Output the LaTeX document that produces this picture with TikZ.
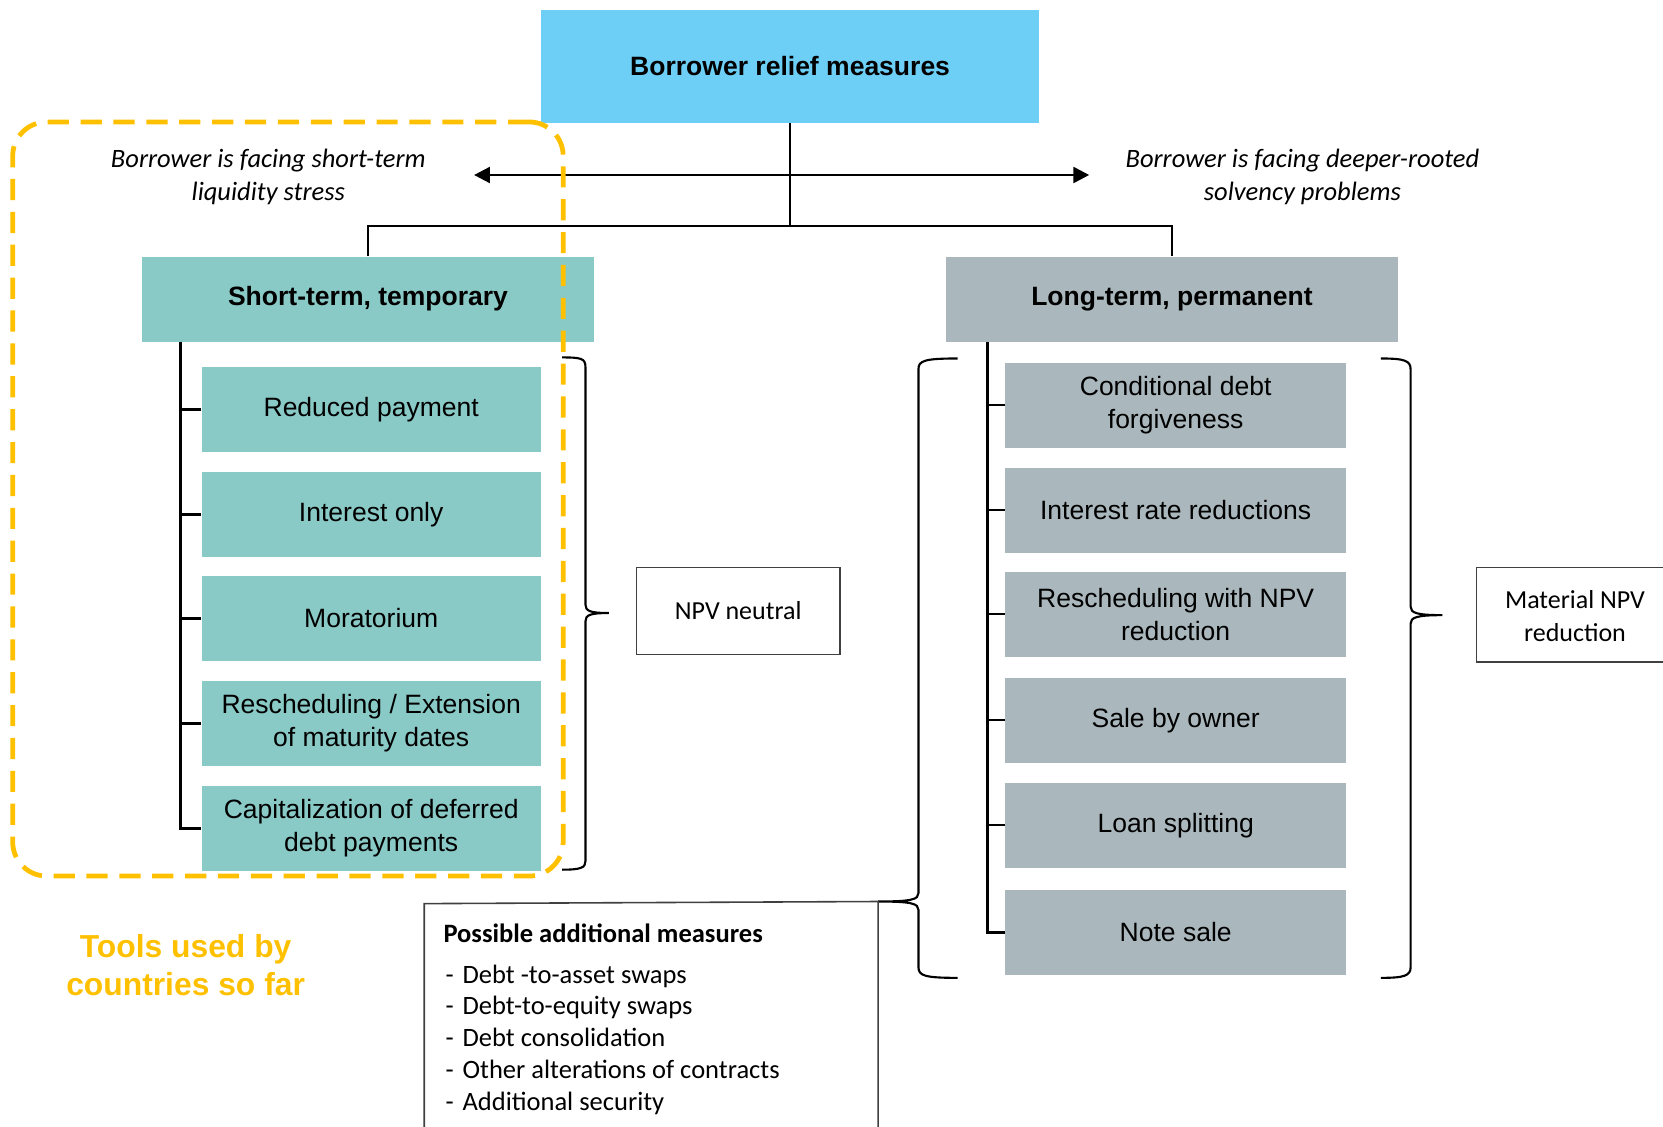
\documentclass[tikz,border=0pt]{standalone}
\usepackage{fontspec}
\setmainfont{Liberation Sans}
\newfontfamily\calib{Carlito}
\usetikzlibrary{arrows.meta,calc}
\definecolor{topblue}{HTML}{6DCFF6}
\definecolor{tealbox}{HTML}{89CAC7}
\definecolor{greybox}{HTML}{AAB8BD}
\definecolor{goldy}{HTML}{FFC000}
\definecolor{edgegrey}{HTML}{404040}
\begin{document}
\begin{tikzpicture}[x=1pt,y=-1pt,
  box/.style={rectangle, inner sep=0pt, align=center, font=\fontsize{25}{31}\selectfont},
  hbox/.style={box, font=\bfseries\fontsize{25}{31}\selectfont},
  lbox/.style={box, fill=tealbox, minimum width=320, minimum height=80},
  rbox/.style={box, fill=greybox, minimum width=321, minimum height=80},
  cal/.style={font=\calib\fontsize{24.5}{31}\selectfont, align=center, inner sep=0pt},
  ital/.style={font=\calib\itshape\fontsize{25}{31}\selectfont, align=center, inner sep=0pt},
  treeline/.style={line width=2.5pt, black},
  bracestyle/.style={line width=2pt, black},
  thinbox/.style={draw=edgegrey, line width=1.5pt},
  listitem/.style={font=\calib\fontsize{25}{30}\selectfont, anchor=base west, inner sep=0pt}
]
\useasboundingbox (0,0) rectangle (1568,1062);

% top box
\node[hbox, fill=topblue, minimum width=470, minimum height=107] (top) at (745,62.5) {Borrower relief measures};

% category boxes
\node[hbox, fill=tealbox, minimum width=426, minimum height=80] (st) at (347,282) {Short-term, temporary};
\node[hbox, fill=greybox, minimum width=426, minimum height=80] (lt) at (1105,282) {Long-term, permanent};

% connectors from top
\coordinate (hub) at (745,213);
\draw[treeline, line width=2.2pt] (top.south) -- (hub);
\draw[treeline, line width=2.2pt] (st.north) |- (hub) -| (lt.north);

% double arrow
\coordinate (arrL) at (447,165);
\coordinate (arrR) at (1027,165);
\draw[line width=2.5pt, {Triangle[length=15pt,width=15pt]}-{Triangle[length=15pt,width=15pt]}] (arrL) -- (arrR);

% italic labels
\node[ital] (stress) at (253,167) {Borrower is facing short-term\\liquidity stress};
\node[ital] (solv) at (1228,167) {Borrower is facing deeper-rooted\\solvency problems};

% left items
\node[lbox] (l1) at (350,386) {Reduced payment};
\node[lbox] (l2) at (350,485) {Interest only};
\node[lbox] (l3) at (350,583) {Moratorium};
\node[lbox] (l4) at (350,682) {Rescheduling / Extension\\of maturity dates};
\node[lbox] (l5) at (350,781) {Capitalization of deferred\\debt payments};

\coordinate (lspine) at (170,322);
\draw[treeline] (lspine) |- (l5.west);
\foreach \i in {1,2,3,4} {\draw[treeline] (l\i.west) -- (l\i.west -| lspine);}

% right items
\node[rbox] (r1) at (1108.5,382) {Conditional debt\\forgiveness};
\node[rbox] (r2) at (1108.5,481) {Interest rate reductions};
\node[rbox] (r3) at (1108.5,579) {Rescheduling with NPV\\reduction};
\node[rbox] (r4) at (1108.5,679) {Sale by owner};
\node[rbox] (r5) at (1108.5,778) {Loan splitting};
\node[rbox] (r6) at (1108.5,879) {Note sale};

\coordinate (rspine) at (931,322);
\draw[treeline] (rspine) |- (r6.west);
\foreach \i in {1,2,3,4,5} {\draw[treeline] (r\i.west) -- (r\i.west -| rspine);}

% NPV boxes
\node[cal, thinbox, minimum width=192, minimum height=82] (npvn) at (696,576) {NPV neutral};
\node[cal] (npvm) at (1485,581) {Material NPV\\reduction};
\coordinate (mtr) at (1568,535);
\coordinate (mbr) at (1568,624);
\draw[thinbox] (mtr) -- (1392,535) -- (1392,624) -- (mbr);

% braces
\draw[bracestyle] (530,337) .. controls (548,337) and (552,338) .. (552,346) -- (552,570)
  .. controls (552,576) and (556,578) .. (574,578)
  .. controls (556,578) and (552,580) .. (552,586) -- (552,812)
  .. controls (552,818) and (548,820) .. (530,820);

\coordinate (pamtip) at (828,850);
\draw[bracestyle] (903,338) .. controls (872,338) and (866,340) .. (866,348) -- (866,842)
  .. controls (866,848) and (860,850) .. (pamtip)
  .. controls (860,850) and (866,852) .. (866,858) -- (866,912)
  .. controls (866,920) and (872,922) .. (903,922);

\draw[bracestyle] (1302,338) .. controls (1324,338) and (1330,340) .. (1330,348) -- (1330,572)
  .. controls (1330,578) and (1336,580) .. (1360,580)
  .. controls (1336,580) and (1330,582) .. (1330,588) -- (1330,912)
  .. controls (1330,920) and (1324,922) .. (1302,922);

% possible additional measures box
\draw[thinbox] (400,1070) -- (400,852) -- (pamtip) -- (828,1070);
\node[listitem, font=\calib\bfseries\fontsize{25}{30}\selectfont] (pam0) at (418,889) {Possible additional measures};
\node[listitem] (pam1) at (418,927) {\makebox[18pt][l]{\hspace{2pt}-}Debt -to-asset swaps};
\node[listitem] (pam2) at (418,957) {\makebox[18pt][l]{\hspace{2pt}-}Debt-to-equity swaps};
\node[listitem] (pam3) at (418,987) {\makebox[18pt][l]{\hspace{2pt}-}Debt consolidation};
\node[listitem] (pam4) at (418,1017) {\makebox[18pt][l]{\hspace{2pt}-}Other alterations of contracts};
\node[listitem] (pam5) at (418,1047) {\makebox[18pt][l]{\hspace{2pt}-}Additional security};

% dashed yellow frame
\node[draw=goldy, line width=4.5pt, dash pattern=on 20pt off 11pt, rounded corners=32pt,
      minimum width=519, minimum height=711, inner sep=0pt] (tools) at (271.5,470.5) {};
\node[font=\bfseries\fontsize{30}{36}\selectfont, text=goldy, align=center, inner sep=0pt] (toolslbl) at (175,910) {Tools used by\\countries so far};
\end{tikzpicture}
\end{document}
